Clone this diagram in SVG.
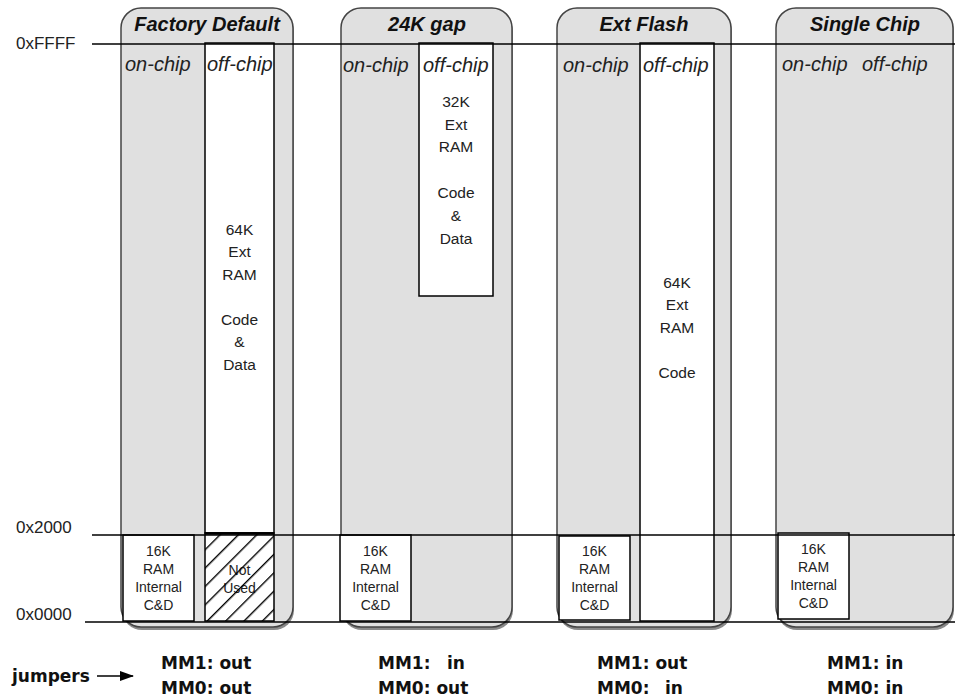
<svg xmlns="http://www.w3.org/2000/svg" width="955" height="698" viewBox="0 0 955 698">
<style>
.panel{fill:#e0e0e0;stroke:#444;stroke-width:1.5}
.shadow{fill:#8a8a8a}
.box{fill:#fff;stroke:#000;stroke-width:1.5}
.title{font-family:"Liberation Sans",Arial,sans-serif;font-size:20px;font-weight:bold;font-style:italic;fill:#111;text-anchor:middle}
.sub{font-family:"Liberation Sans",Arial,sans-serif;font-size:20px;font-style:italic;fill:#222}
.big{font-family:"Liberation Sans",Arial,sans-serif;font-size:15.5px;fill:#222;text-anchor:middle}
.small{font-family:"Liberation Sans",Arial,sans-serif;font-size:14px;fill:#222;text-anchor:middle}
.addr{font-family:"Liberation Sans",Arial,sans-serif;font-size:17px;fill:#222}
.jmp{font-family:"DejaVu Sans",Verdana,sans-serif;font-size:17px;font-weight:bold;fill:#111}
.line{stroke:#000;stroke-width:1.5;fill:none}
</style>
<defs>
<pattern id="hatch" patternUnits="userSpaceOnUse" width="13" height="13" patternTransform="rotate(45)">
<line x1="0" y1="0" x2="0" y2="13" stroke="#000" stroke-width="2.8"/>
</pattern>
<marker id="arr" markerWidth="14" markerHeight="10" refX="13" refY="5" orient="auto" markerUnits="userSpaceOnUse">
<path d="M0,0 L14,5 L0,10 Z" fill="#000"/>
</marker>
</defs>

<g id="panel-factory">
<rect class="shadow" x="122" y="11" width="172" height="619" rx="20"/>
<rect class="panel" x="121" y="8" width="172" height="619" rx="20"/>
<text class="title" x="207" y="31">Factory Default</text>
<text class="sub" x="125" y="71">on-chip</text>
<rect class="box" x="205" y="43" width="69" height="490"/>
<text class="sub" x="207" y="71">off-chip</text>
<text class="big" x="239.5" y="235">64K</text>
<text class="big" x="239.5" y="257">Ext</text>
<text class="big" x="239.5" y="280">RAM</text>
<text class="big" x="239.5" y="325">Code</text>
<text class="big" x="239.5" y="347">&amp;</text>
<text class="big" x="239.5" y="370">Data</text>
<rect class="box" x="123" y="535" width="71" height="86"/>
<text class="small" x="158.5" y="556">16K</text>
<text class="small" x="158.5" y="574">RAM</text>
<text class="small" x="158.5" y="592">Internal</text>
<text class="small" x="158.5" y="610">C&amp;D</text>
<rect x="205" y="533" width="69" height="88" fill="#fff"/>
<text class="small" x="239.5" y="575">Not</text>
<text class="small" x="239.5" y="593">Used</text>
<rect x="205" y="533" width="69" height="88" fill="url(#hatch)" stroke="#000" stroke-width="1.5"/>
<line x1="205" y1="533.5" x2="274" y2="533.5" stroke="#000" stroke-width="2.5"/>
</g>

<g id="panel-24k">
<rect class="shadow" x="342" y="11" width="171" height="619" rx="20"/>
<rect class="panel" x="341" y="8" width="171" height="619" rx="20"/>
<text class="title" x="427" y="31">24K gap</text>
<text class="sub" x="343" y="72">on-chip</text>
<rect class="box" x="419" y="43" width="74" height="253"/>
<text class="sub" x="423" y="72">off-chip</text>
<text class="big" x="456" y="107">32K</text>
<text class="big" x="456" y="130">Ext</text>
<text class="big" x="456" y="152">RAM</text>
<text class="big" x="456" y="198">Code</text>
<text class="big" x="456" y="221">&amp;</text>
<text class="big" x="456" y="244">Data</text>
<rect class="box" x="340" y="535" width="71" height="86"/>
<text class="small" x="375.5" y="556">16K</text>
<text class="small" x="375.5" y="574">RAM</text>
<text class="small" x="375.5" y="592">Internal</text>
<text class="small" x="375.5" y="610">C&amp;D</text>
</g>

<g id="panel-extflash">
<rect class="shadow" x="558" y="11" width="174" height="619" rx="20"/>
<rect class="panel" x="557" y="8" width="174" height="619" rx="20"/>
<text class="title" x="644" y="31">Ext Flash</text>
<text class="sub" x="563" y="72">on-chip</text>
<rect class="box" x="640" y="43" width="74" height="578"/>
<text class="sub" x="643" y="72">off-chip</text>
<text class="big" x="677" y="288">64K</text>
<text class="big" x="677" y="310">Ext</text>
<text class="big" x="677" y="333">RAM</text>
<text class="big" x="677" y="378">Code</text>
<rect class="box" x="559" y="536" width="71" height="84"/>
<text class="small" x="594.5" y="556">16K</text>
<text class="small" x="594.5" y="574">RAM</text>
<text class="small" x="594.5" y="592">Internal</text>
<text class="small" x="594.5" y="610">C&amp;D</text>
</g>

<g id="panel-singlechip">
<rect class="shadow" x="777" y="11" width="177" height="619" rx="20"/>
<rect class="panel" x="776" y="8" width="177" height="619" rx="20"/>
<text class="title" x="865" y="31">Single Chip</text>
<text class="sub" x="782" y="71">on-chip</text>
<text class="sub" x="862" y="71">off-chip</text>
<rect class="box" x="778" y="533" width="71" height="86"/>
<text class="small" x="813.5" y="554">16K</text>
<text class="small" x="813.5" y="572">RAM</text>
<text class="small" x="813.5" y="590">Internal</text>
<text class="small" x="813.5" y="608">C&amp;D</text>
</g>

<g id="connectors">
<line class="line" x1="92" y1="44" x2="955" y2="44"/>
<line class="line" x1="92" y1="535" x2="955" y2="535"/>
<line class="line" x1="85" y1="622" x2="955" y2="622"/>
<line class="line" x1="97" y1="676" x2="133" y2="676" marker-end="url(#arr)"/>
</g>

<g id="addresses">
<text class="addr" x="16" y="49">0xFFFF</text>
<text class="addr" x="16" y="533">0x2000</text>
<text class="addr" x="16" y="620">0x0000</text>
</g>

<g id="jumpers">
<text class="jmp" x="12" y="682">jumpers</text>
<text class="jmp" x="161" y="669">MM1: out</text>
<text class="jmp" x="161" y="694">MM0: out</text>
<text class="jmp" x="378" y="669">MM1:</text>
<text class="jmp" x="447" y="669">in</text>
<text class="jmp" x="378" y="694">MM0: out</text>
<text class="jmp" x="597" y="669">MM1: out</text>
<text class="jmp" x="597" y="694">MM0:</text>
<text class="jmp" x="665" y="694">in</text>
<text class="jmp" x="827" y="669">MM1: in</text>
<text class="jmp" x="827" y="694">MM0: in</text>
</g>
</svg>
